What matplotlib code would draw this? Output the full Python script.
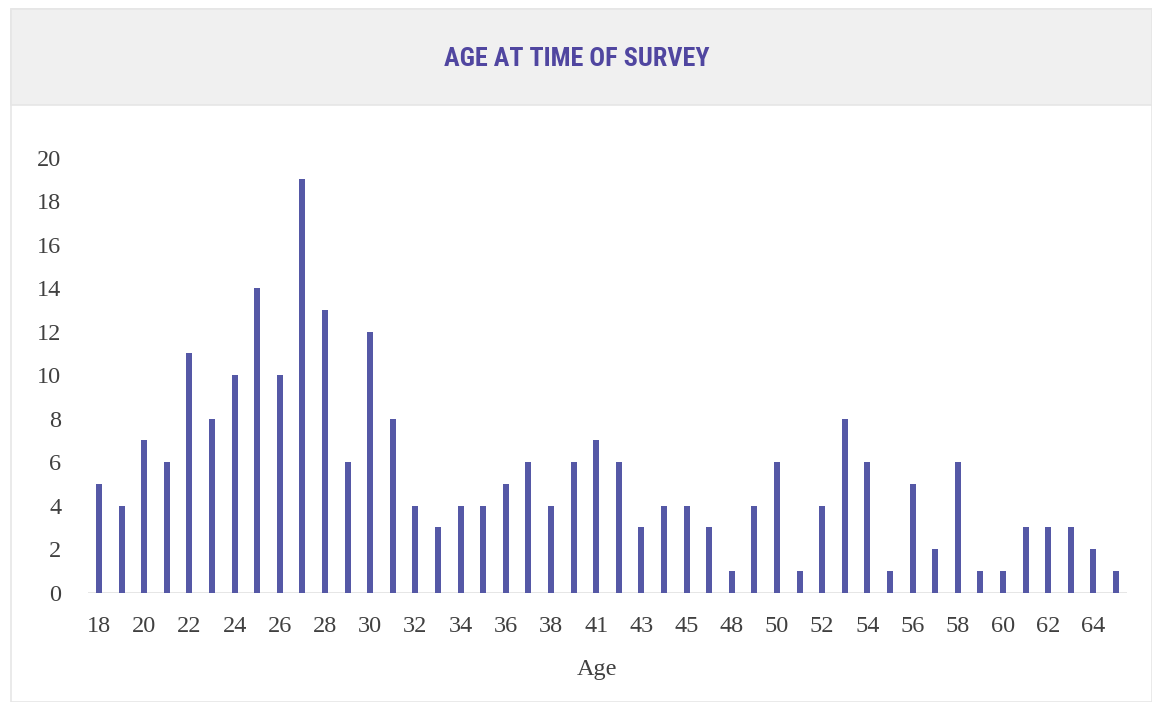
import matplotlib
matplotlib.use("Agg")
import matplotlib.pyplot as plt
from matplotlib.patches import Rectangle
from matplotlib import font_manager

ages = [18, 19, 20, 21, 22, 23, 24, 25, 26, 27, 28, 29, 30, 31, 32, 33, 34, 35,
        36, 37, 38, 40, 41, 42, 43, 44, 45, 47, 48, 49, 50, 51, 52, 53, 54, 55,
        56, 57, 58, 59, 60, 61, 62, 63, 64, 65]
counts = [5, 4, 7, 6, 11, 8, 10, 14, 10, 19, 13, 6, 12, 8, 4, 3, 4, 4,
          5, 6, 4, 6, 7, 6, 3, 4, 4, 3, 1, 4, 6, 1, 4, 8, 6, 1,
          5, 2, 6, 1, 1, 3, 3, 3, 2, 1]
y_ticks = list(range(0, 21, 2))
title = "AGE AT TIME OF SURVEY"
x_label = "Age"

BAR = "#5558a6"
TITLE_C = "#5046a0"
TEXT_C = "#404040"

names = {f.name for f in font_manager.fontManager.ttflist}
title_font = "DejaVu Sans"
title_size = 16
for cand, size in [("Liberation Sans Narrow", 20), ("DejaVu Sans Condensed", 17),
                   ("Roboto Condensed", 18.8), ("Roboto", 16.5)]:
    if cand in names:
        title_font, title_size = cand, size
        break
serif = "Liberation Serif"

W, H = 1152, 702
fig = plt.figure(figsize=(W / 100, H / 100), dpi=100)

# card frame and header band, kept beneath the axes
card = Rectangle((11 / W, 0), 1 - 11 / W, 1 - 9 / H, transform=fig.transFigure,
                 facecolor="white", edgecolor="#e6e6e6", linewidth=1.2, zorder=-2)
band = Rectangle((11 / W, 1 - 105 / H), 1 - 11 / W, 96 / H, transform=fig.transFigure,
                 facecolor="#f0f0f0", edgecolor="#e6e6e6", linewidth=1.2, zorder=-1)
fig.patches.extend([card, band])
fig.text(577 / W, 1 - 59 / H, title, ha="center", va="center", color=TITLE_C,
         fontsize=title_size, fontweight="bold", family=title_font)

left, right = 87.7, 1127.3
bottom, top = 592.7, 157.7
ax = fig.add_axes([left / W, 1 - bottom / H, (right - left) / W, (bottom - top) / H])
ax.set_facecolor("none")

ax.axhline(0, color="#e3e3e3", linewidth=2, zorder=1)
pos = list(range(len(ages)))
ax.bar(pos, counts, width=0.27, color=BAR, zorder=3)
ax.set_xlim(-0.5, len(ages) - 0.5)
ax.set_ylim(0, 20)

ax.set_xticks(pos[::2])
ax.set_xticklabels([str(a) for a in ages[::2]], family=serif, fontsize=17.5, color=TEXT_C)
ax.set_yticks(y_ticks)
ax.set_yticklabels([str(v) for v in y_ticks], family=serif, fontsize=17.5, color=TEXT_C)
ax.tick_params(axis="both", length=0)
ax.tick_params(axis="x", pad=17)
ax.tick_params(axis="y", pad=19)
for s in ax.spines.values():
    s.set_visible(False)

fig.text(597 / W, 1 - 670 / H, x_label, ha="center", va="center", family=serif,
         fontsize=17.5, color=TEXT_C)

fig.savefig("out.png", dpi=100)
